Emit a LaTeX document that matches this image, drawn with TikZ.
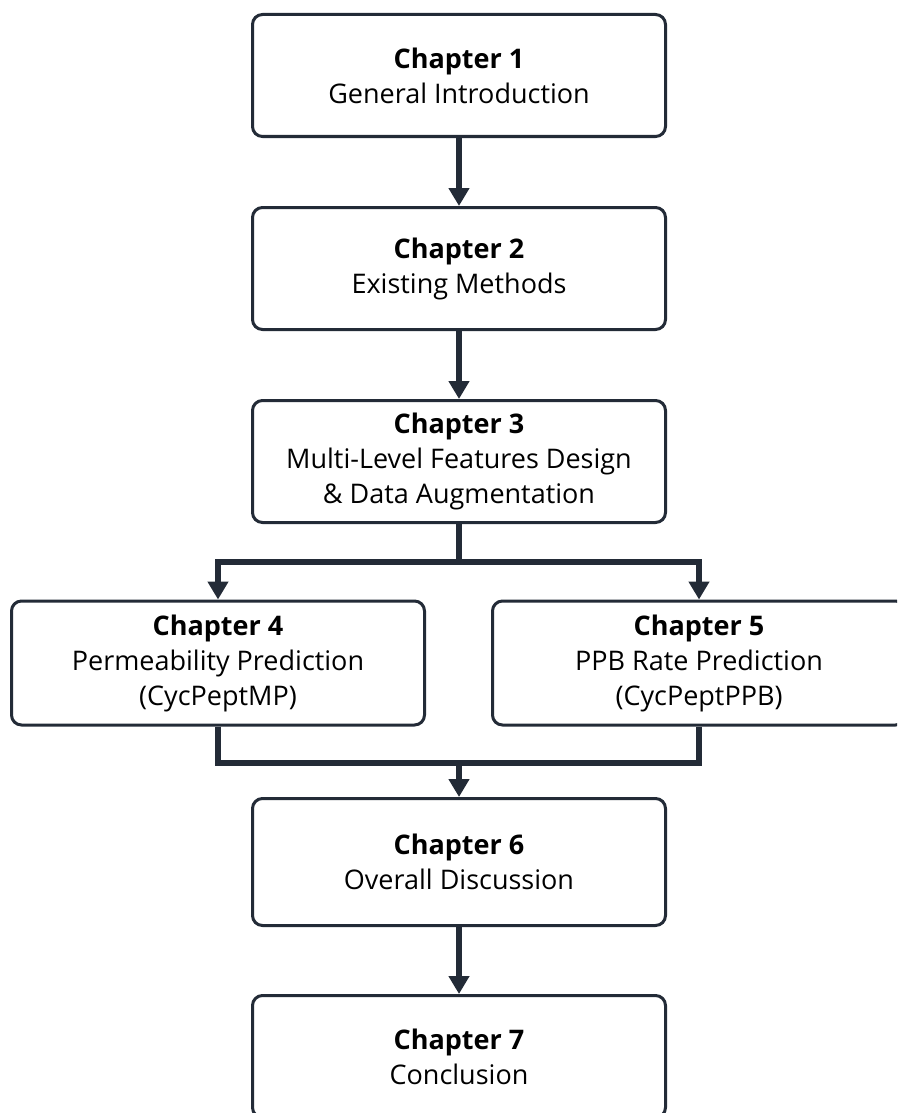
\documentclass[tikz,border=0pt]{standalone}
\usepackage{fontspec}
\setmainfont{Open Sans}
\usetikzlibrary{arrows.meta}
\definecolor{ink}{HTML}{232B37}
\begin{document}
\begin{tikzpicture}[x=1pt,y=-1pt,
  chap/.style={draw=ink, line width=3pt, rounded corners=10pt, fill=white,
    minimum width=413pt, minimum height=122pt, align=center, inner sep=0pt,
    font=\fontsize{27}{35}\selectfont, text=black},
  conn/.style={draw=ink, line width=6pt},
  arr/.style={conn, -{Triangle[width=20pt,length=18pt]}}]
\useasboundingbox (0,0) rectangle (897,1113);
\clip (0,0) rectangle (897,1113);
\node[chap] (b1) at (459,75.5) {\textbf{Chapter 1}\\General Introduction};
\node[chap] (b2) at (459,268.5) {\textbf{Chapter 2}\\Existing Methods};
\node[chap] (b3) at (459,461.5) {\textbf{Chapter 3}\\Multi-Level Features Design\\\& Data Augmentation};
\node[chap, minimum height=124pt] (b4) at (218,663) {\textbf{Chapter 4}\\Permeability Prediction\\(CycPeptMP)};
\node[chap, minimum height=124pt] (b5) at (699,663) {\textbf{Chapter 5}\\PPB Rate Prediction\\(CycPeptPPB)};
\node[chap, minimum height=127pt] (b6) at (459,862) {\textbf{Chapter 6}\\Overall Discussion};
\node[chap] (b7) at (459,1056.5) {\textbf{Chapter 7}\\Conclusion};
\coordinate (split) at (459,562);
\coordinate (merge) at (459,763);
\draw[arr] (b1.south) -- (b2.north);
\draw[arr] (b2.south) -- (b3.north);
\draw[arr] (b3.south) -- (split) -| (b4.north);
\draw[arr] (split) -| (b5.north);
\draw[conn] (b4.south) |- (merge);
\draw[conn] (b5.south) |- (merge);
\draw[arr] (merge) -- (b6.north);
\draw[arr] (b6.south) -- (b7.north);
\end{tikzpicture}
\end{document}
